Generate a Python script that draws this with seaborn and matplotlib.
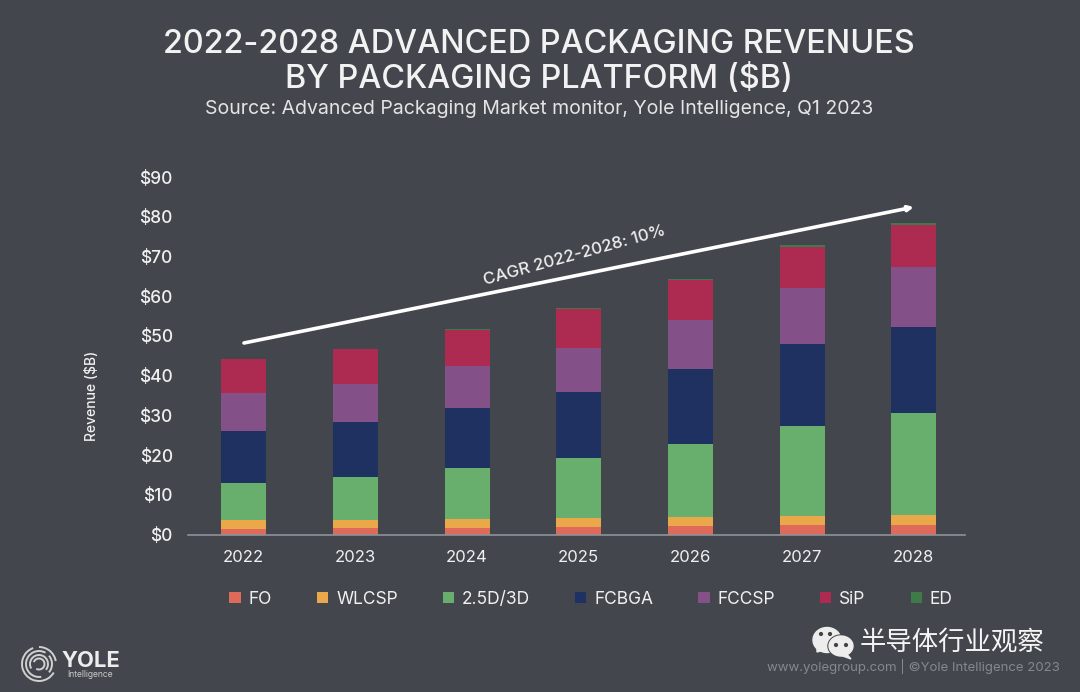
import numpy as np
import pandas as pd
import matplotlib
matplotlib.use("Agg")
import matplotlib.pyplot as plt
from matplotlib.patches import Arc, Ellipse, Polygon, Circle
import seaborn as sns

years = ["2022", "2023", "2024", "2025", "2026", "2027", "2028"]
series = ["FO", "WLCSP", "2.5D/3D", "FCBGA", "FCCSP", "SiP", "ED"]
fo = [1.4, 1.55, 1.7, 2.0, 2.1, 2.3, 2.4]
wlcsp = [2.25, 2.1, 2.2, 2.1, 2.3, 2.4, 2.5]
d25 = [9.25, 10.95, 12.9, 15.2, 18.4, 22.5, 25.8]
fcbga = [13.2, 13.6, 15.1, 16.7, 18.9, 20.7, 21.6]
fccsp = [9.4, 9.7, 10.4, 11.0, 12.3, 14.1, 15.0]
sip = [8.6, 8.7, 9.3, 9.8, 10.0, 10.3, 10.7]
ed = [0.05, 0.05, 0.1, 0.1, 0.35, 0.5, 0.5]
values = [fo, wlcsp, d25, fcbga, fccsp, sip, ed]
colors = ["#DE6A5A", "#EBA84A", "#68AE6C", "#1F3160", "#845088", "#AD2A50", "#3F7A48"]
yticks = [0, 10, 20, 30, 40, 50, 60, 70, 80, 90]

BG = "#43474D"
W, H = 1080, 692
sns.set_theme(style="white")
plt.rcParams["font.family"] = ["Inter", "Noto Sans CJK SC", "DejaVu Sans"]
fig = plt.figure(figsize=(W / 100, H / 100), dpi=100, facecolor=BG)

def fx(x):
    return x / W

def fy(y):
    return 1 - y / H

left, right, top, bottom = 188, 965, 177, 534.5
ax = fig.add_axes([fx(left), fy(bottom), fx(right - left), (bottom - top) / H], facecolor=BG)

base = np.zeros(len(years))
for name, vals, col in zip(series, values, colors):
    df = pd.DataFrame({"year": years, "value": vals})
    sns.barplot(data=df, x="year", y="value", color=col, bottom=base, width=0.403,
                saturation=1, label=name, ax=ax, errorbar=None, linewidth=0, legend=False)
    base = base + np.array(vals)

ax.set_xlim(-0.5, 6.46)
ax.set_ylim(0, 90)
ax.set_yticks(yticks)
ax.set_yticklabels([f"${v}" for v in yticks], color="#F0F0F0", fontsize=12.5, fontweight="medium")
ax.tick_params(axis="y", length=0, pad=15)
ax.tick_params(axis="x", length=0, pad=11, labelcolor="#F0F0F0", labelsize=12)
ax.set_xlabel("")
ax.set_ylabel("")
for s in ["top", "right", "left"]:
    ax.spines[s].set_visible(False)
ax.spines["bottom"].set_color("#8E919A")
ax.spines["bottom"].set_linewidth(1.2)
ax.tick_params(axis="y", pad=11)

fig.text(fx(92), fy(395.5), "Revenue ($B)", rotation=90, ha="center", va="center",
         color="#F0F0F0", fontsize=10, fontweight="medium")

fig.text(fx(539), fy(44.5), "2022-2028 ADVANCED PACKAGING REVENUES", ha="center", va="center",
         color="#F2F2F2", fontsize=23.3, fontweight="medium")
fig.text(fx(539), fy(80), "BY PACKAGING PLATFORM ($B)", ha="center", va="center",
         color="#F2F2F2", fontsize=23.3, fontweight="medium")
fig.text(fx(539), fy(109), "Source: Advanced Packaging Market monitor, Yole Intelligence, Q1 2023",
         ha="center", va="center", color="#E4E4E4", fontsize=14)

ax.annotate("", xy=(fx(914), fy(207)), xytext=(fx(244), fy(343)), xycoords="figure fraction",
            textcoords="figure fraction",
            arrowprops=dict(arrowstyle="-|>,head_width=0.12,head_length=0.25", color="white",
                            lw=2.6, shrinkA=0, shrinkB=0))
fig.text(fx(574), fy(256), "CAGR 2022-2028: 10%", rotation=15.5, ha="center", va="center",
         color="#F0F0F0", fontsize=12.2, fontweight="medium", rotation_mode="anchor")

handles, labels = ax.get_legend_handles_labels()
leg = fig.legend(handles, labels, ncol=7, loc="center", bbox_to_anchor=(fx(591), fy(599)),
                 frameon=False, fontsize=12.5, labelcolor="#F0F0F0", handlelength=0.65,
                 handleheight=0.65, handletextpad=0.45, columnspacing=2.6)

# Logo rings
scale = fig.add_axes([0, 0, 1, 1], facecolor="none")
scale.set_xlim(0, W)
scale.set_ylim(H, 0)
scale.axis("off")
cx, cy = 39, 664
for r, a1, a2, lw in [(17, 30, 250, 1.4), (17, 270, 350, 1.4), (13, 80, 300, 1.4),
                      (13, 320, 400, 1.4), (9, 150, 400, 1.4), (5.5, 200, 480, 1.4)]:
    scale.add_patch(Arc((cx, cy), 2 * r, 2 * r, theta1=a1, theta2=a2, color="#D0D0D0", lw=lw))
scale.text(62, 661, "YOLE", color="#EDEDED", fontsize=15.8, fontweight="bold", va="center")
scale.text(67, 674.5, "Intelligence", color="#C8C8C8", fontsize=6.2, va="center")

# WeChat mark
scale.add_patch(Ellipse((827, 640), 28, 25, color="#EDEDED"))
scale.add_patch(Polygon([(817, 649), (817, 652), (824, 650)], color="#EDEDED"))
scale.add_patch(Ellipse((841, 646), 26, 22, color=BG))
scale.add_patch(Ellipse((841, 646), 24, 20, color="#EDEDED"))
scale.add_patch(Polygon([(845, 652), (851, 659), (840, 655)], color="#EDEDED"))
for px, py in [(821, 634), (830, 634), (836, 645), (846, 645)]:
    scale.add_patch(Circle((px, py), 1.4, color="#444444"))

fig.text(fx(860), fy(642), "半导体行业观察", color="#F5F5F5", fontsize=19,
         family=["Noto Sans CJK SC", "DejaVu Sans"], va="center", ha="left")
fig.text(fx(1060), fy(667), "www.yolegroup.com | ©Yole Intelligence 2023", color="#85888E",
         fontsize=9.5, ha="right", va="center")

fig.savefig("out.png", dpi=100, facecolor=BG)
